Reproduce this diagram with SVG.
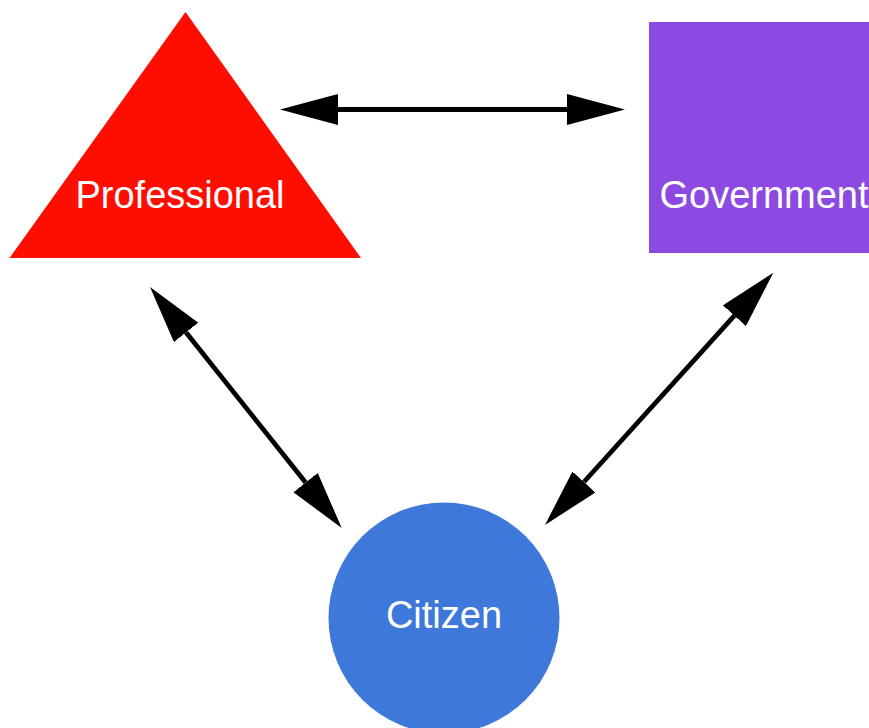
<svg xmlns="http://www.w3.org/2000/svg" width="869" height="728" viewBox="0 0 869 728">
<style>
.lbl{font-family:"Liberation Sans",Arial,Helvetica,sans-serif;font-size:38px;fill:#ffffff;text-anchor:middle}
.conn{stroke:#000;stroke-width:4.8;fill:none}
</style>
<defs>
<marker id="ah" viewBox="0 0 58 31" refX="0" refY="15.5" markerWidth="58" markerHeight="31" markerUnits="userSpaceOnUse" orient="auto-start-reverse">
<path d="M0,0 L58,15.5 L0,31 Z" fill="#000"/>
</marker>
</defs>
<rect width="869" height="728" fill="#fff"/>
<g id="professional">
<polygon points="185.5,12 361,258 9.5,258" fill="#FF0E00"/>
<text class="lbl" x="180" y="208">Professional</text>
</g>
<g id="government">
<rect x="649" y="22" width="220" height="231" fill="#8D4AE3"/>
<text class="lbl" x="764" y="208">Government</text>
</g>
<g id="citizen">
<circle cx="444" cy="618" r="115.5" fill="#3E78DB"/>
<text class="lbl" x="444" y="628">Citizen</text>
</g>
<g id="connectors">
<line class="conn" x1="338" y1="109.5" x2="567" y2="109.5" marker-start="url(#ah)" marker-end="url(#ah)"/>
<line class="conn" x1="186.1" y1="332.4" x2="305.6" y2="482.6" marker-start="url(#ah)" marker-end="url(#ah)"/>
<line class="conn" x1="734.4" y1="315.7" x2="583.9" y2="482" marker-start="url(#ah)" marker-end="url(#ah)"/>
</g>
</svg>
